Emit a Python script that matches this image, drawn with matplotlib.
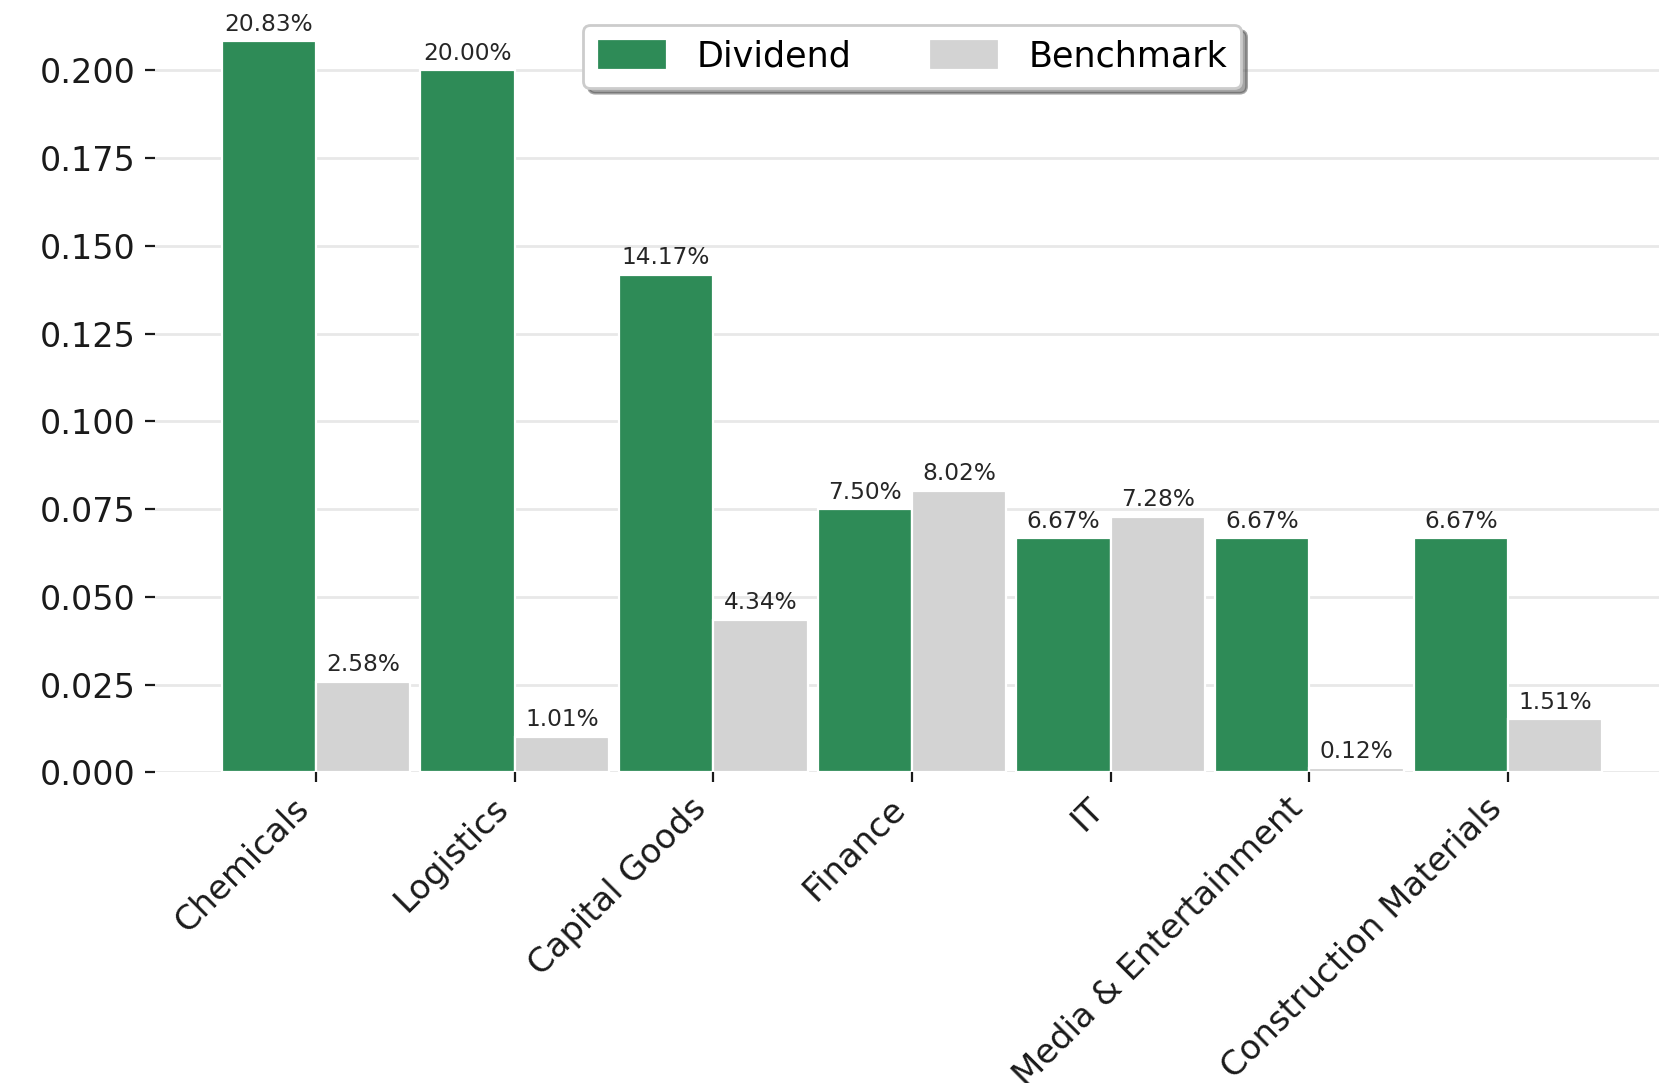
import matplotlib
matplotlib.use("Agg")
import matplotlib.pyplot as plt
from matplotlib.ticker import MultipleLocator
import numpy as np

categories = ["Chemicals", "Logistics", "Capital Goods", "Finance", "IT",
              "Media & Entertainment", "Construction Materials"]
dividend = [0.2083, 0.2000, 0.1417, 0.0750, 0.0667, 0.0667, 0.0667]
benchmark = [0.0258, 0.0101, 0.0434, 0.0802, 0.0728, 0.0012, 0.0151]
series_names = ["Dividend", "Benchmark"]
colors = ["#2E8B57", "#D3D3D3"]

DPI = 200
fig = plt.figure(figsize=(1659 / DPI, 1083 / DPI), dpi=DPI)
W, H = 1659, 1083
left_px, right_px = 155, 1669
bottom_px, top_px = 772.3, 4.7
ax = fig.add_axes([left_px / W, (H - bottom_px) / H,
                   (right_px - left_px) / W, (bottom_px - top_px) / H])

x = np.arange(len(categories))
bw = 0.475
off = 0.2375
b1 = ax.bar(x - off, dividend, width=bw, color=colors[0], edgecolor="white",
            linewidth=0.8, label=series_names[0], zorder=3)
b2 = ax.bar(x + off, benchmark, width=bw, color=colors[1], edgecolor="white",
            linewidth=0.8, label=series_names[1], zorder=3)

for bars in (b1, b2):
    ax.bar_label(bars, labels=[f"{v:.2%}" for v in bars.datavalues],
                 padding=2, fontsize=8.4, color="#262626")

ax.set_xlim(-0.81, len(categories) - 1 + 0.81)
ax.set_ylim(0, 0.2187)
ax.yaxis.set_major_locator(MultipleLocator(0.025))
ax.yaxis.set_major_formatter(plt.FormatStrFormatter("%.3f"))

ax.set_xticks(x)
ax.set_xticklabels(categories, rotation=45, ha="right", fontsize=12.2, color="#1a1a1a")
ax.tick_params(axis="y", labelsize=12, colors="#1a1a1a", length=3.5, width=0.8)
ax.tick_params(axis="x", length=3.5, width=0.8, colors="#1a1a1a")

ax.grid(axis="y", color="#E8E8E8", linewidth=1.0, zorder=0)
ax.set_axisbelow(True)
for s in ax.spines.values():
    s.set_visible(False)

leg = ax.legend(loc="upper center", bbox_to_anchor=(912 / W, (H - 25) / H),
                bbox_transform=fig.transFigure, ncol=2, fontsize=12.6,
                shadow=True, fancybox=True, frameon=True, borderaxespad=0,
                handleheight=1.0, handlelength=2.0,
                columnspacing=2.2, handletextpad=0.85)
leg.get_frame().set_edgecolor("#CCCCCC")

fig.savefig("out.png", dpi=DPI)
